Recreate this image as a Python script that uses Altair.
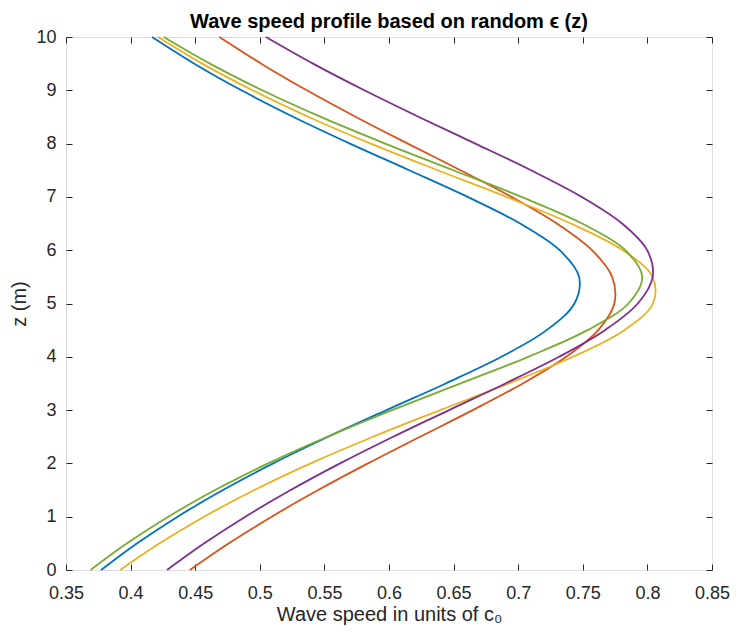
import altair as alt
import pandas as pd

# depth values (m)
z = [0, 0.5, 1, 1.5, 2, 2.5, 3, 3.5, 4, 4.5, 5, 5.5, 6, 6.5, 7, 7.5, 8, 8.5, 9, 9.5, 10]

# wave speed (units of c0), one list per curve
blue = [0.3772, 0.4051, 0.4364, 0.4715, 0.5103, 0.5529, 0.5981, 0.6439, 0.6870, 0.7220, 0.7435,
        0.7471, 0.7321, 0.7015, 0.6609, 0.6156, 0.5698, 0.5261, 0.4858, 0.4493, 0.4166]
orange = [0.4459, 0.4761, 0.5092, 0.5452, 0.5837, 0.6241, 0.6648, 0.7036, 0.7372, 0.7619, 0.7744,
          0.7727, 0.7571, 0.7299, 0.6948, 0.6553, 0.6145, 0.5744, 0.5364, 0.5011, 0.4687]
yellow = [0.3920, 0.4224, 0.4569, 0.4958, 0.5394, 0.5877, 0.6396, 0.6927, 0.7424, 0.7821, 0.8043,
          0.8039, 0.7809, 0.7408, 0.6908, 0.6377, 0.5859, 0.5378, 0.4943, 0.4555, 0.4213]
purple = [0.4282, 0.4570, 0.4888, 0.5239, 0.5621, 0.6032, 0.6465, 0.6901, 0.7316, 0.7671, 0.7926,
          0.8041, 0.7998, 0.7804, 0.7491, 0.7098, 0.6668, 0.6231, 0.5809, 0.5412, 0.5047]
green = [0.3690, 0.3972, 0.4292, 0.4654, 0.5064, 0.5522, 0.6024, 0.6554, 0.7078, 0.7536, 0.7853,
         0.7960, 0.7829, 0.7494, 0.7025, 0.6498, 0.5970, 0.5472, 0.5019, 0.4614, 0.4256]

series_names = ["a", "b", "c", "d", "e"]
series_vals = [blue, orange, yellow, purple, green]
colors = ["#0072BD", "#D95319", "#EDB120", "#7E2F8E", "#77AC30"]

x_ticks = [0.35, 0.4, 0.45, 0.5, 0.55, 0.6, 0.65, 0.7, 0.75, 0.8, 0.85]
y_ticks = [0, 1, 2, 3, 4, 5, 6, 7, 8, 9, 10]

rows = []
for name, vals in zip(series_names, series_vals):
    for zz, c in zip(z, vals):
        rows.append({"series": name, "z": zz, "c": c})
df = pd.DataFrame(rows)

FONT = "Liberation Sans"
AX = "#262626"

xscale = alt.Scale(domain=[0.35, 0.85], nice=False, zero=False)
yscale = alt.Scale(domain=[0, 10], nice=False, zero=False)

tick_common = dict(domain=False, grid=False, ticks=True, tickSize=6, tickColor=AX,
                   tickWidth=1, offset=-6)
label_common = dict(labelFont=FONT, labelFontSize=18, labelColor=AX, labelFlush=False,
                    labelOverlap=False,
                    titleFont=FONT, titleFontSize=20, titleColor=AX, titleFontWeight="normal")

base = alt.Chart(df)

lines = base.mark_line(interpolate="catmull-rom", strokeWidth=1.8).encode(
    x=alt.X("c:Q", scale=xscale,
            axis=alt.Axis(values=x_ticks, format="~g", orient="bottom", labelPadding=14,
                          title="Wave speed in units of c₀", titlePadding=2,
                          **tick_common, **label_common)),
    y=alt.Y("z:Q", scale=yscale,
            axis=alt.Axis(values=y_ticks, orient="left", labelPadding=10,
                          title="z (m)", titlePadding=6,
                          **tick_common, **label_common)),
    color=alt.Color("series:N", scale=alt.Scale(domain=series_names, range=colors), legend=None),
    order=alt.Order("z:Q"),
)

opposite = base.mark_line(opacity=0).encode(
    x=alt.X("c:Q", scale=xscale,
            axis=alt.Axis(values=x_ticks, orient="top", labels=False, title="", **tick_common)),
    y=alt.Y("z:Q", scale=yscale,
            axis=alt.Axis(values=y_ticks, orient="right", labels=False, title="", **tick_common)),
    detail="series:N",
    order=alt.Order("z:Q"),
)

chart = alt.layer(lines, opposite).resolve_axis(
    x="independent", y="independent"
).properties(
    width=646,
    height=533,
    autosize=alt.AutoSizeParams(type="none"),
    padding={"left": 58, "top": 29, "right": 18, "bottom": 55},
    title=alt.Title("Wave speed profile based on random ϵ (z)", font=FONT, fontSize=20,
                    fontWeight="bold", color="#000000", anchor="middle", offset=-4),
).configure_view(
    stroke=AX, strokeWidth=1
).configure(background="white")

chart.save("out.html", embed_options={"renderer": "svg", "actions": False})
